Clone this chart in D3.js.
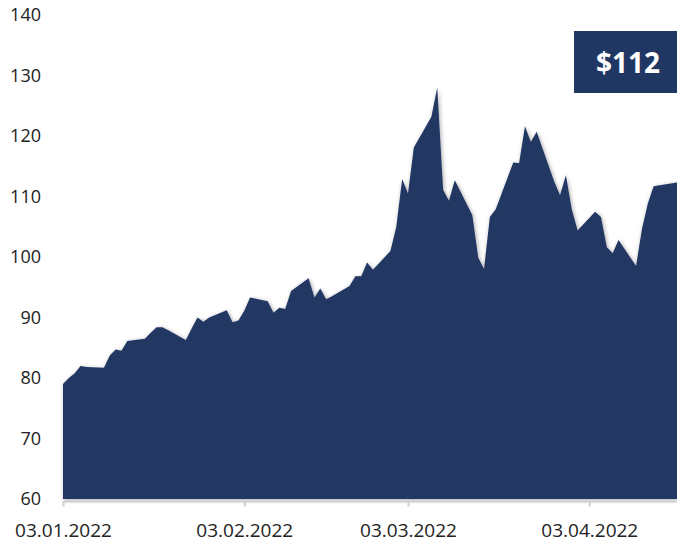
<!DOCTYPE html>
<html>
<head>
<meta charset="utf-8">
<script src="https://cdn.jsdelivr.net/npm/d3@7"></script>
<style>
  body { margin: 0; background: #fff; }
  svg { display: block; font-family: "Open Sans", sans-serif; }
</style>
</head>
<body>
<div id="chart"></div>
<script>
const dates = [
  "2022-01-03","2022-01-04","2022-01-05","2022-01-06","2022-01-07",
  "2022-01-10","2022-01-11","2022-01-12","2022-01-13","2022-01-14",
  "2022-01-17","2022-01-18","2022-01-19","2022-01-20","2022-01-21",
  "2022-01-24","2022-01-25","2022-01-26","2022-01-27","2022-01-28",
  "2022-01-31","2022-02-01","2022-02-02","2022-02-03","2022-02-04",
  "2022-02-07","2022-02-08","2022-02-09","2022-02-10","2022-02-11",
  "2022-02-14","2022-02-15","2022-02-16","2022-02-17","2022-02-18",
  "2022-02-21","2022-02-22","2022-02-23","2022-02-24","2022-02-25",
  "2022-02-28","2022-03-01","2022-03-02","2022-03-03","2022-03-04",
  "2022-03-07","2022-03-08","2022-03-09","2022-03-10","2022-03-11",
  "2022-03-14","2022-03-15","2022-03-16","2022-03-17","2022-03-18",
  "2022-03-21","2022-03-22","2022-03-23","2022-03-24","2022-03-25",
  "2022-03-28","2022-03-29","2022-03-30","2022-03-31","2022-04-01",
  "2022-04-04","2022-04-05","2022-04-06","2022-04-07","2022-04-08",
  "2022-04-11","2022-04-12","2022-04-13","2022-04-14","2022-04-18"
];
const prices = [
  79.0, 80.0, 80.8, 82.0, 81.8,
  81.7, 83.7, 84.7, 84.5, 86.1,
  86.5, 87.5, 88.4, 88.4, 87.9,
  86.3, 88.2, 90.0, 89.3, 90.0,
  91.2, 89.2, 89.5, 91.1, 93.3,
  92.7, 90.8, 91.6, 91.4, 94.4,
  96.5, 93.3, 94.8, 93.0, 93.5,
  95.2, 96.8, 96.8, 99.1, 97.9,
  101.0, 105.0, 112.9, 110.5, 118.1,
  123.2, 128.0, 111.1, 109.3, 112.7,
  106.9, 99.9, 98.0, 106.6, 107.9,
  115.6, 115.5, 121.6, 119.0, 120.7,
  112.5, 110.2, 113.5, 107.9, 104.4,
  107.5, 106.6, 101.6, 100.6, 102.8,
  98.5, 104.6, 108.8, 111.7, 112.3
];
const yTicks = [60, 70, 80, 90, 100, 110, 120, 130, 140];
const xTickDates = ["2022-01-03", "2022-02-03", "2022-03-03", "2022-04-03"];
const priceLabel = "$112";

const W = 677, H = 546;
const parse = d3.timeParse("%Y-%m-%d");
const fmt = d3.timeFormat("%d.%m.%Y");
const data = dates.map((d, i) => ({ date: parse(d), price: prices[i] }));

const svg = d3.select("#chart").append("svg")
  .attr("width", W)
  .attr("height", H);

const x = d3.scaleTime()
  .domain(d3.extent(data, d => d.date))
  .range([63, 677]);

const y = d3.scaleLinear()
  .domain([60, 140])
  .range([499, 15]);

// soft shadow round the area
const defs = svg.append("defs");
const f = defs.append("filter").attr("id", "shadow")
  .attr("x", "-5%").attr("y", "-5%").attr("width", "110%").attr("height", "110%");
f.append("feDropShadow")
  .attr("dx", 1).attr("dy", 1)
  .attr("stdDeviation", 2)
  .attr("flood-color", "#000")
  .attr("flood-opacity", 0.35);

const area = d3.area()
  .x(d => x(d.date))
  .y0(y(60))
  .y1(d => y(d.price));

svg.append("path")
  .datum(data)
  .attr("d", area)
  .attr("fill", "#213763")
  .attr("filter", "url(#shadow)");

// x axis
const xAxis = svg.append("g")
  .attr("transform", "translate(0,501.5)")
  .call(d3.axisBottom(x)
    .tickValues(xTickDates.map(parse))
    .tickFormat(fmt)
    .tickSize(5)
    .tickPadding(17));
xAxis.select(".domain").attr("stroke", "#d0d0d0").attr("stroke-width", 2)
  .attr("d", "M63,0H677");
xAxis.selectAll(".tick line").attr("stroke", "#d0d0d0").attr("stroke-width", 2);
xAxis.selectAll("text")
  .attr("fill", "#222")
  .style("font-size", "19px")
  .style("font-family", "'Open Sans', sans-serif");

// y labels
svg.append("g")
  .selectAll("text")
  .data(yTicks)
  .join("text")
  .attr("x", 41)
  .attr("y", d => y(d))
  .attr("dy", "0.35em")
  .attr("text-anchor", "end")
  .attr("fill", "#222")
  .style("font-size", "18px")
  .text(d => d);

// current price box
svg.append("rect")
  .attr("x", 574)
  .attr("y", 31)
  .attr("width", W - 574)
  .attr("height", 62)
  .attr("fill", "#213763");

svg.append("text")
  .attr("x", 628)
  .attr("y", 73)
  .attr("text-anchor", "middle")
  .attr("fill", "#fff")
  .style("font-size", "28px")
  .style("font-weight", "bold")
  .text(priceLabel);
</script>
</body>
</html>
